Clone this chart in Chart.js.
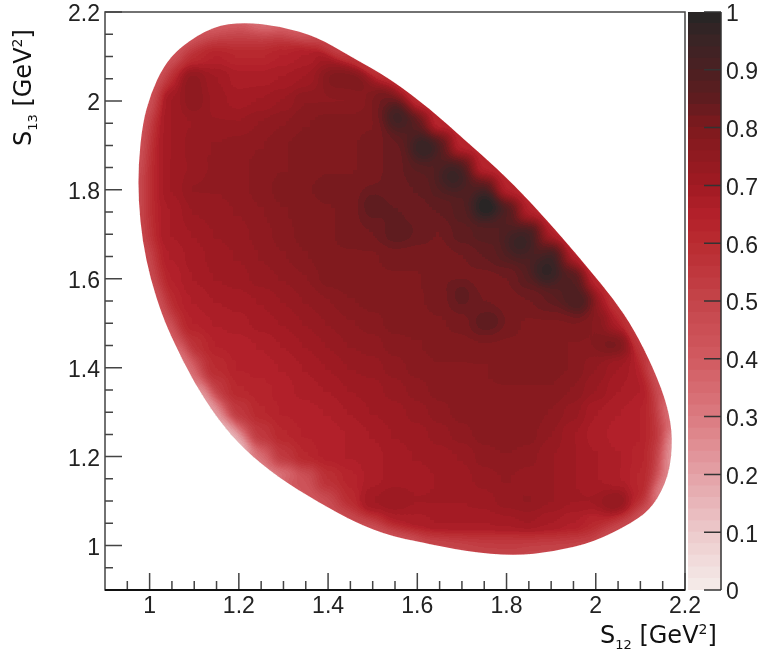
<!DOCTYPE html>
<html>
<head>
<meta charset="utf-8">
<script src="https://cdn.jsdelivr.net/npm/chart.js@4"></script>
<style>
  html, body { margin: 0; padding: 0; background: #fff; }
  #wrap { position: relative; width: 760px; height: 654px; overflow: hidden; }
  canvas { position: absolute; top: 0; }
  .axisTitle { position: absolute; font-family: "DejaVu Sans", sans-serif; font-size: 24px; color: #111; white-space: nowrap; line-height: 24px; }
  .axisTitle sub { font-size: 13px; line-height: 0; }
  .axisTitle sup { font-size: 14px; line-height: 0; }
  #xTitle { left: 600px; top: 623px; }
  #yTitle { left: 11px; top: 146px; transform-origin: 0 0; transform: rotate(-90deg); }
</style>
</head>
<body>
<div id="wrap">
  <canvas id="plot" width="760" height="654" style="left:0"></canvas>
  <canvas id="scaleBar" width="80" height="654" style="left:680px"></canvas>
  <div class="axisTitle" id="xTitle">S<sub>12</sub> [GeV<sup>2</sup>]</div>
  <div class="axisTitle" id="yTitle">S<sub>13</sub> [GeV<sup>2</sup>]</div>
</div>
<script>
// axis ticks
const xTicks = [1, 1.2, 1.4, 1.6, 1.8, 2, 2.2];
const yTicks = [1, 1.2, 1.4, 1.6, 1.8, 2, 2.2];
const minorTicks = [0.95, 1.05, 1.1, 1.15, 1.25, 1.3, 1.35, 1.45, 1.5, 1.55, 1.65, 1.7, 1.75, 1.85, 1.9, 1.95, 2.05, 2.1, 2.15];
const barTicks = [0, 0.1, 0.2, 0.3, 0.4, 0.5, 0.6, 0.7, 0.8, 0.9, 1];

// grid of the map
const gridS12 = [0.95, 1, 1.05, 1.1, 1.15, 1.2, 1.25, 1.3, 1.35, 1.4, 1.45, 1.5, 1.55, 1.6, 1.65, 1.7, 1.75, 1.8, 1.85, 1.9, 1.95, 2, 2.05, 2.1, 2.15, 2.2];
const gridS13 = [2.2, 2.15, 2.1, 2.05, 2, 1.95, 1.9, 1.85, 1.8, 1.75, 1.7, 1.65, 1.6, 1.55, 1.5, 1.45, 1.4, 1.35, 1.3, 1.25, 1.2, 1.15, 1.1, 1.05, 1, 0.95];
const heat = [
  [.50,.50,.50,.50,.45,.42,.42,.45,.50,.55,.60,.60,.60,.60,.60,.60,.60,.60,.60,.60,.60,.60,.60,.60,.60,.60],
  [.50,.50,.50,.50,.52,.52,.52,.55,.58,.60,.62,.60,.60,.60,.60,.60,.60,.60,.60,.60,.60,.60,.60,.60,.60,.60],
  [.50,.50,.52,.60,.64,.62,.62,.64,.66,.70,.70,.65,.60,.60,.60,.60,.60,.60,.60,.60,.60,.60,.60,.60,.60,.60],
  [.50,.52,.62,.74,.70,.67,.67,.68,.70,.76,.78,.74,.62,.60,.60,.60,.60,.60,.60,.60,.60,.60,.60,.60,.60,.60],
  [.50,.55,.70,.76,.71,.69,.70,.72,.76,.76,.76,.78,.76,.62,.60,.60,.60,.60,.60,.60,.60,.60,.60,.60,.60,.60],
  [.50,.60,.70,.72,.72,.72,.74,.76,.78,.79,.79,.80,.84,.82,.62,.60,.60,.60,.60,.60,.60,.60,.60,.60,.60,.60],
  [.52,.62,.70,.73,.74,.75,.76,.78,.79,.80,.80,.81,.83,.88,.84,.64,.60,.60,.60,.60,.60,.60,.60,.60,.60,.60],
  [.52,.62,.70,.74,.74,.75,.77,.78,.79,.80,.80,.81,.83,.86,.88,.84,.64,.60,.60,.60,.60,.60,.60,.60,.60,.60],
  [.52,.62,.70,.74,.74,.75,.77,.79,.80,.81,.81,.82,.83,.84,.87,.89,.86,.66,.60,.60,.60,.60,.60,.60,.60,.60],
  [.52,.62,.68,.72,.73,.74,.76,.78,.79,.80,.81,.84,.84,.83,.84,.87,.93,.89,.68,.60,.60,.60,.60,.60,.60,.60],
  [.52,.62,.68,.70,.72,.73,.75,.77,.79,.80,.81,.82,.85,.83,.82,.85,.87,.89,.91,.72,.60,.60,.60,.60,.60,.60],
  [.52,.60,.66,.69,.71,.72,.74,.76,.78,.80,.80,.80,.81,.81,.81,.82,.84,.87,.91,.93,.74,.60,.60,.60,.60,.60],
  [.50,.58,.64,.68,.70,.71,.73,.74,.76,.79,.80,.80,.80,.80,.82,.81,.81,.82,.86,.89,.89,.68,.60,.60,.60,.60],
  [.50,.50,.62,.66,.68,.69,.70,.72,.74,.76,.78,.79,.79,.80,.81,.84,.82,.81,.82,.84,.84,.72,.60,.60,.60,.60],
  [.50,.50,.58,.64,.66,.67,.69,.70,.72,.74,.76,.77,.79,.79,.80,.81,.85,.81,.80,.80,.80,.78,.68,.60,.60,.60],
  [.45,.45,.50,.58,.64,.65,.66,.68,.70,.72,.74,.75,.77,.78,.79,.79,.80,.80,.80,.79,.78,.78,.78,.68,.55,.55],
  [.40,.40,.42,.50,.60,.64,.65,.66,.68,.70,.72,.73,.75,.77,.78,.78,.78,.79,.79,.79,.78,.74,.70,.66,.55,.50],
  [.30,.30,.35,.40,.54,.62,.63,.65,.67,.68,.70,.71,.73,.75,.77,.78,.78,.78,.78,.78,.76,.72,.68,.66,.55,.45],
  [.25,.25,.25,.30,.40,.55,.62,.64,.65,.66,.68,.70,.71,.73,.75,.77,.78,.78,.78,.76,.73,.68,.66,.64,.55,.40],
  [.15,.15,.15,.20,.28,.42,.55,.62,.64,.65,.66,.68,.70,.71,.73,.75,.77,.78,.77,.74,.70,.67,.65,.64,.55,.35],
  [.10,.10,.10,.10,.15,.25,.40,.55,.62,.65,.66,.67,.69,.70,.71,.72,.75,.76,.75,.72,.70,.68,.66,.63,.52,.35],
  [.10,.10,.10,.10,.10,.10,.12,.30,.45,.58,.63,.67,.69,.69,.70,.71,.73,.74,.73,.72,.70,.68,.66,.62,.50,.40],
  [.15,.15,.15,.15,.15,.15,.15,.30,.40,.50,.60,.70,.72,.70,.70,.70,.71,.73,.74,.72,.70,.70,.74,.62,.50,.45],
  [.40,.40,.40,.40,.40,.40,.40,.40,.45,.50,.55,.60,.66,.67,.68,.68,.68,.69,.70,.68,.66,.62,.62,.60,.55,.50],
  [.55,.55,.55,.55,.55,.55,.55,.55,.55,.55,.55,.55,.55,.55,.55,.55,.55,.55,.55,.55,.55,.55,.55,.55,.55,.55],
  [.55,.55,.55,.55,.55,.55,.55,.55,.55,.55,.55,.55,.55,.55,.55,.55,.55,.55,.55,.55,.55,.55,.55,.55,.55,.55]
];

// dark band running just inside the upper right rim
const ridgeS12 = [1.53, 1.555, 1.615, 1.68, 1.755, 1.83, 1.89, 1.96];
const ridgeS13 = [2.0, 1.965, 1.895, 1.83, 1.765, 1.68, 1.62, 1.55];
const ridgeZ = [.82, .87, .87, .88, .88, .88, .88, .84];

// small dark blobs the grid is too coarse for
const spotS12 = [1.555, 1.615, 1.68, 1.755, 1.83, 1.89, 1.96, 1.09, 1.42, 1.465, 2.034, 1.5, 1.563, 1.7, 1.765, 2.034, 1.09];
const spotS13 = [1.965, 1.895, 1.83, 1.765, 1.68, 1.62, 1.55, 2.035, 2.05, 2.045, 1.453, 1.77, 1.707, 1.57, 1.505, 1.094, 1.85];
const spotZ = [.93, .96, .95, 1, .95, .97, .9, .76, .8, .8, .81, .86, .86, .85, .86, .74, .72];

// outline of the allowed region, with the value along the rim
const edgeS12 = [1.211, 1.294, 1.377, 1.451, 1.54, 1.63, 1.704, 1.78, 1.854, 1.928, 1.984, 2.04, 2.085, 2.13, 2.161, 2.173, 2.164, 2.13, 2.085, 1.996, 1.906, 1.816, 1.713, 1.592, 1.54, 1.466, 1.377, 1.287, 1.211, 1.152, 1.099, 1.054, 1.029, 1.002, 0.984, 0.975, 0.975, 0.984, 1.002, 1.031, 1.07, 1.143];
const edgeS13 = [2.177, 2.168, 2.143, 2.1, 2.049, 1.981, 1.914, 1.847, 1.772, 1.689, 1.622, 1.554, 1.487, 1.397, 1.314, 1.24, 1.157, 1.089, 1.053, 1.008, 0.986, 0.977, 0.986, 1.011, 1.022, 1.049, 1.098, 1.154, 1.217, 1.285, 1.368, 1.458, 1.516, 1.599, 1.685, 1.775, 1.858, 1.948, 2.015, 2.078, 2.123, 2.168];
const edgeZ = [.32, .38, .48, .55, .6, .62, .62, .62, .62, .62, .6, .56, .52, .42, .32, .2, .25, .4, .45, .5, .48, .5, .48, .42, .42, .45, .42, .3, .12, .18, .3, .38, .42, .45, .48, .45, .42, .42, .42, .42, .42, .38];

// palette, z value -> colour
const paletteZ = [0, 0.1, 0.2, 0.3, 0.4, 0.5, 0.6, 0.65, 0.7, 0.8, 0.85, 0.9, 0.95, 1];
const paletteRGB = [[245,236,234],[236,201,203],[228,161,166],[219,122,128],[209,90,96],[196,68,74],[185,43,48],[178,32,42],[160,26,34],[126,26,30],[95,28,31],[75,32,34],[58,36,37],[37,37,37]];

function rgbFor(z) {
  let i = 0;
  while (i < paletteZ.length - 2 && z > paletteZ[i + 1]) i++;
  const t = Math.min(1, Math.max(0, (z - paletteZ[i]) / (paletteZ[i + 1] - paletteZ[i])));
  return paletteRGB[i].map((a, k) => Math.round(a + (paletteRGB[i + 1][k] - a) * t));
}

function colourFor(z) {
  const c = rgbFor(z);
  return `rgb(${c[0]},${c[1]},${c[2]})`;
}

// 50 colour levels, same ones for the map and the scale
const bandLevels = [];
for (let i = 0; i < 50; i++) bandLevels.push(i / 50);
const bandRGB = bandLevels.map(z => rgbFor(z + 0.01));

const labelFont = { family: '"Liberation Sans", Arial, sans-serif', size: 23 };

const gridPoints = [];
gridS13.forEach((y, r) => gridS12.forEach((x, c) => gridPoints.push({ x, y, z: heat[r][c] })));
const spotPoints = spotS12.map((x, i) => ({ x, y: spotS13[i], z: spotZ[i] }));
const ridgePoints = ridgeS12.map((x, i) => ({ x, y: ridgeS13[i], z: ridgeZ[i] }));
const edgePoints = edgeS12.map((x, i) => ({ x, y: edgeS13[i], z: edgeZ[i] }));
edgePoints.push(edgePoints[0]);

function pointColours(points) {
  return points.map(p => colourFor(p.z));
}

const segmentColour = { borderColor: c => colourFor(c.p0.raw.z) };

// digits sit a bit high with a middle baseline, nudge the y labels down
const nudgeLabels = {
  id: 'nudgeLabels',
  afterLayout(chart) {
    chart.scales.y.getLabelItems().forEach(item => { item.textOffset += 3; });
  }
};

// snap every pixel of the map to the nearest colour level
function snapToLevels(ctx, a) {
  const w = a.right - a.left, h = a.bottom - a.top;
  const img = ctx.getImageData(a.left, a.top, w, h);
  const d = img.data;
  for (let p = 0; p < d.length; p += 4) {
    if (d[p] > 250 && d[p + 1] > 250 && d[p + 2] > 250) continue;
    let best = 0, bestD = 1e9;
    for (let b = 0; b < bandRGB.length; b++) {
      const c = bandRGB[b];
      const e = (d[p] - c[0]) ** 2 + (d[p + 1] - c[1]) ** 2 + (d[p + 2] - c[2]) ** 2;
      if (e < bestD) { bestD = e; best = b; }
    }
    d[p] = bandRGB[best][0]; d[p + 1] = bandRGB[best][1]; d[p + 2] = bandRGB[best][2];
  }
  ctx.putImageData(img, a.left, a.top);
}

// smooths the drawn cells and trims them to the outline
const smoothPlugin = {
  id: 'smooth',
  afterDatasetsDraw(chart) {
    const { ctx, chartArea: a, scales: { x, y } } = chart;
    const copy = document.createElement('canvas');
    copy.width = ctx.canvas.width;
    copy.height = ctx.canvas.height;
    copy.getContext('2d').drawImage(ctx.canvas, 0, 0);

    ctx.save();
    ctx.fillStyle = '#fff';
    ctx.fillRect(a.left, a.top, a.right - a.left, a.bottom - a.top);
    const px = edgeS12.map(v => x.getPixelForValue(v));
    const py = edgeS13.map(v => y.getPixelForValue(v));
    const n = px.length;
    ctx.beginPath();
    ctx.moveTo((px[n - 1] + px[0]) / 2, (py[n - 1] + py[0]) / 2);
    for (let i = 0; i < n; i++) {
      const j = (i + 1) % n;
      ctx.quadraticCurveTo(px[i], py[i], (px[i] + px[j]) / 2, (py[i] + py[j]) / 2);
    }
    ctx.clip();
    ctx.filter = 'blur(6px)';
    ctx.drawImage(copy, 0, 0);
    ctx.restore();
    snapToLevels(ctx, a);

    // frame and inward ticks
    ctx.save();
    ctx.strokeStyle = '#444';
    ctx.lineWidth = 1.5;
    ctx.strokeRect(a.left, a.top, a.right - a.left, a.bottom - a.top);
    ctx.beginPath();
    xTicks.forEach(v => { const p = x.getPixelForValue(v); ctx.moveTo(p, a.bottom); ctx.lineTo(p, a.bottom - 17); });
    yTicks.forEach(v => { const p = y.getPixelForValue(v); ctx.moveTo(a.left, p); ctx.lineTo(a.left + 17, p); });
    minorTicks.forEach(v => {
      const p = x.getPixelForValue(v);
      ctx.moveTo(p, a.bottom); ctx.lineTo(p, a.bottom - 9);
      const q = y.getPixelForValue(v);
      ctx.moveTo(a.left, q); ctx.lineTo(a.left + 8, q);
    });
    ctx.stroke();
    ctx.strokeStyle = '#111';
    ctx.lineWidth = 2;
    ctx.beginPath();
    ctx.moveTo(a.left, a.bottom);
    ctx.lineTo(a.right, a.bottom);
    ctx.stroke();
    ctx.restore();
  }
};

new Chart(document.getElementById('plot'), {
  type: 'scatter',
  data: {
    datasets: [
      { data: edgePoints, showLine: true, pointRadius: 0, borderWidth: 14, borderCapStyle: 'round', borderJoinStyle: 'round', segment: segmentColour, order: 1 },
      { data: spotPoints, pointStyle: 'circle', pointRadius: c => (c.raw.z > 0.88 ? 14 : 11), pointBorderWidth: 0, backgroundColor: pointColours(spotPoints), order: 2 },
      { data: ridgePoints, showLine: true, pointRadius: 0, borderWidth: 28, borderCapStyle: 'round', borderJoinStyle: 'round', segment: segmentColour, order: 3 },
      { data: gridPoints, pointStyle: 'rect', pointRadius: 16.5, pointBorderWidth: 0, backgroundColor: pointColours(gridPoints), order: 4 }
    ]
  },
  options: {
    responsive: false,
    animation: false,
    events: [],
    layout: { autoPadding: false, padding: { top: 12, right: 75 } },
    plugins: { legend: { display: false }, tooltip: { enabled: false } },
    scales: {
      x: {
        type: 'linear', min: 0.9, max: 2.2,
        afterBuildTicks: s => { s.ticks = xTicks.map(value => ({ value })); },
        afterFit: s => { s.height = 64; s.paddingLeft = 0; s.paddingRight = 0; },
        border: { display: false },
        grid: { display: false, drawTicks: false },
        ticks: { color: '#222', font: labelFont, padding: 3, maxRotation: 0, autoSkip: false, callback: v => String(v) }
      },
      y: {
        type: 'linear', min: 0.9, max: 2.2,
        afterBuildTicks: s => { s.ticks = yTicks.map(value => ({ value })); },
        afterFit: s => { s.width = 105; s.paddingTop = 0; s.paddingBottom = 0; },
        border: { display: false },
        grid: { display: false, drawTicks: false },
        ticks: { color: '#222', font: labelFont, padding: 5, autoSkip: false, callback: v => String(v) }
      }
    }
  },
  plugins: [smoothPlugin, nudgeLabels]
});

const barTicksPlugin = {
  id: 'barTicks',
  afterDatasetsDraw(chart) {
    const { ctx, chartArea: a, scales: { y } } = chart;
    ctx.save();
    ctx.strokeStyle = '#333';
    ctx.lineWidth = 1.5;
    ctx.beginPath();
    ctx.moveTo(a.right, a.top);
    ctx.lineTo(a.right, a.bottom);
    barTicks.forEach(v => { const p = y.getPixelForValue(v); ctx.moveTo(a.right, p); ctx.lineTo(a.right - 17, p); });
    ctx.stroke();
    ctx.restore();
  }
};

new Chart(document.getElementById('scaleBar'), {
  type: 'bar',
  data: {
    labels: [''],
    datasets: bandLevels.map(z => ({
      data: [0.02],
      backgroundColor: colourFor(z + 0.01),
      categoryPercentage: 1,
      barPercentage: 1,
      borderWidth: 0,
      inflateAmount: 0.5
    }))
  },
  options: {
    responsive: false,
    animation: false,
    events: [],
    layout: { padding: { top: 12, left: 8 } },
    plugins: { legend: { display: false }, tooltip: { enabled: false } },
    scales: {
      x: { stacked: true, afterFit: s => { s.height = 64; s.paddingLeft = 0; s.paddingRight = 0; }, border: { display: false }, grid: { display: false, drawTicks: false }, ticks: { display: false } },
      y: {
        stacked: true, position: 'right', min: 0, max: 1,
        afterBuildTicks: s => { s.ticks = barTicks.map(value => ({ value })); },
        afterFit: s => { s.width = 39; s.paddingTop = 0; s.paddingBottom = 0; },
        border: { display: false },
        grid: { display: false, drawTicks: false },
        ticks: { color: '#222', font: labelFont, padding: 5, autoSkip: false, callback: v => String(v) }
      }
    }
  },
  plugins: [barTicksPlugin, nudgeLabels]
});
</script>
</body>
</html>
